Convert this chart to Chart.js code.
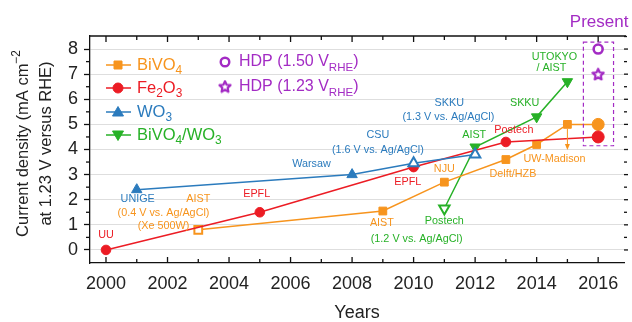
<!DOCTYPE html>
<html>
<head>
<meta charset="utf-8">
<script src="https://cdn.jsdelivr.net/npm/chart.js@4.4.1/dist/chart.umd.min.js"></script>
<style>
html,body{margin:0;padding:0;background:#fff;}
#wrap{width:632px;height:322px;}
</style>
</head>
<body>
<div id="wrap"><canvas id="c" width="632" height="322"></canvas></div>
<script>
// ---------- data ----------
const bivo4Years   = [2003, 2009, 2011, 2013, 2014, 2015, 2016];
const bivo4Values  = [0.8, 1.55, 2.7, 3.6, 4.2, 5.0, 5.0];
const fe2o3Years   = [2000, 2005, 2010, 2013, 2016];
const fe2o3Values  = [0.0, 1.5, 3.3, 4.3, 4.5];
const wo3Years     = [2001, 2008, 2010, 2012];
const wo3Values    = [2.4, 3.0, 3.45, 3.8];
const bwYears      = [2011, 2012, 2014, 2015];
const bwValues     = [1.65, 4.1, 5.3, 6.7];
const hdp150Years  = [2016];
const hdp150Values = [8.0];
const hdp123Years  = [2016];
const hdp123Values = [7.0];
const xTickLabels  = ['2000','2002','2004','2006','2008','2010','2012','2014','2016'];
const yTickLabels  = ['0','1','2','3','4','5','6','7','8'];

// ---------- styles ----------
const ORANGE = '#f7941d', RED = '#ec1c24', BLUE = '#2b7bbd', GREEN = '#27b127', PURPLE = '#a32bc4';
const FONT = '"Liberation Sans", Arial, Helvetica, sans-serif';

function pts(xs, ys){ return xs.map((x,i)=>({x:x, y:ys[i]})); }

function makeStar(color){
  const cv = document.createElement('canvas');
  cv.width = 14; cv.height = 14;
  const g = cv.getContext('2d');
  g.beginPath();
  for(let i=0;i<10;i++){
    const r = i%2===0 ? 5.8 : 2.8;
    const a = -Math.PI/2 + i*Math.PI/5;
    const px = 7 + r*Math.cos(a), py = 7.5 + r*Math.sin(a);
    if(i===0) g.moveTo(px,py); else g.lineTo(px,py);
  }
  g.closePath();
  g.fillStyle = '#fff'; g.fill();
  g.lineWidth = 2.2; g.strokeStyle = color; g.lineJoin='round'; g.stroke();
  return cv;
}
const starImg = makeStar(PURPLE);

// annotation labels (positions in data coordinates)
const labels = [
  ['UU', RED, 2000, 0.6],
  ['UNIGE', BLUE, 2001.03, 2.03],
  ['(0.4 V vs. Ag/AgCl)', ORANGE, 2001.87, 1.47],
  ['(Xe 500W)', ORANGE, 2001.87, 0.96],
  ['AIST', ORANGE, 2003.0, 2.03],
  ['EPFL', RED, 2004.9, 2.23],
  ['Warsaw', BLUE, 2006.68, 3.43],
  ['CSU', BLUE, 2008.84, 4.58],
  ['(1.6 V vs. Ag/AgCl)', BLUE, 2008.84, 3.98],
  ['SKKU', BLUE, 2011.16, 5.86],
  ['(1.3 V vs. Ag/AgCl)', BLUE, 2011.13, 5.30],
  ['EPFL', RED, 2009.81, 2.71],
  ['NJU', ORANGE, 2011.0, 3.23],
  ['AIST', GREEN, 2011.97, 4.58],
  ['Postech', RED, 2013.26, 4.78],
  ['Postech', GREEN, 2011.0, 1.16],
  ['AIST', ORANGE, 2008.97, 1.08],
  ['(1.2 V vs. Ag/AgCl)', GREEN, 2010.1, 0.44],
  ['Delft/HZB', ORANGE, 2013.23, 3.03],
  ['UW-Madison', ORANGE, 2014.58, 3.63],
  ['SKKU', GREEN, 2013.61, 5.86],
  ['UTOKYO', GREEN, 2014.58, 7.69],
  ['/ AIST', GREEN, 2014.48, 7.25]
];

function drawMarker(ctx, type, x, y, color, hollow){
  ctx.save();
  ctx.fillStyle = hollow ? '#fff' : color;
  ctx.strokeStyle = color;
  ctx.lineWidth = hollow ? 2 : 1;
  ctx.beginPath();
  if(type==='rect'){ ctx.rect(x-4, y-4, 8, 8); }
  else if(type==='circle'){ ctx.arc(x, y, 5, 0, Math.PI*2); }
  else if(type==='tri'){ ctx.moveTo(x, y-5.5); ctx.lineTo(x+5.5, y+4); ctx.lineTo(x-5.5, y+4); ctx.closePath(); }
  else if(type==='itri'){ ctx.moveTo(x, y+5.5); ctx.lineTo(x+5.5, y-4); ctx.lineTo(x-5.5, y-4); ctx.closePath(); }
  ctx.fill(); ctx.stroke();
  ctx.restore();
}

// text with subscripts: parts = [[text, 'n'|'sub'|'sup'], ...]
function richText(ctx, parts, x, y, size, color){
  let cx = x;
  ctx.fillStyle = color;
  ctx.textBaseline = 'middle';
  ctx.textAlign = 'left';
  for(const [t, k] of parts){
    if(k==='n'){ ctx.font = size+'px '+FONT; ctx.fillText(t, cx, y); }
    else if(k==='sub'){ ctx.font = (size*0.72)+'px '+FONT; ctx.fillText(t, cx, y+size*0.35); }
    else { ctx.font = (size*0.72)+'px '+FONT; ctx.fillText(t, cx, y-size*0.4); }
    cx += ctx.measureText(t).width;
  }
  return cx - x;
}
function richWidth(ctx, parts, size){
  let w = 0;
  for(const [t,k] of parts){
    ctx.font = (k==='n'? size : size*0.72)+'px '+FONT;
    w += ctx.measureText(t).width;
  }
  return w;
}

const decor = {
  id: 'decor',
  beforeDatasetsDraw(chart){
    const {ctx, chartArea:a, scales:{x, y}} = chart;
    ctx.save();
    ctx.strokeStyle = '#111';
    ctx.lineWidth = 1.3;
    ctx.beginPath(); ctx.moveTo(a.left, a.top); ctx.lineTo(a.right+2, a.top); ctx.stroke();
    for(let yr=2000; yr<=2016; yr++){
      const px = x.getPixelForValue(yr);
      const len = yr%2===0 ? 6 : 4;
      ctx.beginPath();
      ctx.moveTo(px, a.bottom); ctx.lineTo(px, a.bottom-len);
      ctx.moveTo(px, a.top); ctx.lineTo(px, a.top+len);
      ctx.stroke();
    }
    for(let v=-0.5; v<=8.5; v+=0.5){
      const py = y.getPixelForValue(v);
      if(v>=0 && v<=8 && Math.abs(v%1)>0.1){
        ctx.beginPath(); ctx.moveTo(a.left, py); ctx.lineTo(a.left-4, py); ctx.stroke();
      }
      if(v>=0 && v<=8.5){
        ctx.beginPath(); ctx.moveTo(a.right, py); ctx.lineTo(a.right+(Math.abs(v%1)<0.1?4:3), py); ctx.stroke();
      }
    }
    ctx.restore();
  },
  afterDatasetsDraw(chart){
    const {ctx, chartArea:a, scales:{x, y}} = chart;
    ctx.save();
    ctx.strokeStyle = PURPLE; ctx.lineWidth = 1.2; ctx.setLineDash([4,3]);
    const bx0 = x.getPixelForValue(2015.52), bx1 = x.getPixelForValue(2016.5);
    const by0 = y.getPixelForValue(8.28), by1 = y.getPixelForValue(4.15);
    ctx.strokeRect(bx0, by0, bx1-bx0, by1-by0);
    ctx.setLineDash([]);
    const ax = x.getPixelForValue(2015), ay0 = y.getPixelForValue(4.82), ay1 = y.getPixelForValue(3.98);
    ctx.strokeStyle = ORANGE; ctx.fillStyle = ORANGE; ctx.lineWidth = 1;
    ctx.beginPath(); ctx.moveTo(ax, ay0); ctx.lineTo(ax, ay1-3); ctx.stroke();
    ctx.beginPath(); ctx.moveTo(ax, ay1); ctx.lineTo(ax-2.5, ay1-6); ctx.lineTo(ax+2.5, ay1-6); ctx.closePath(); ctx.fill();
    ctx.font = '10.8px '+FONT; ctx.textAlign = 'center'; ctx.textBaseline = 'middle';
    for(const [t, c, lx, ly] of labels){
      ctx.fillStyle = c;
      ctx.fillText(t, x.getPixelForValue(lx), y.getPixelForValue(ly));
    }
    ctx.font = '17px '+FONT; ctx.fillStyle = PURPLE;
    ctx.fillText('Present', x.getPixelForValue(2016.03), a.top - 14);
    const legend = [
      ['rect', ORANGE, [['BiVO','n'],['4','sub']]],
      ['circle', RED, [['Fe','n'],['2','sub'],['O','n'],['3','sub']]],
      ['tri', BLUE, [['WO','n'],['3','sub']]],
      ['itri', GREEN, [['BiVO','n'],['4','sub'],['/WO','n'],['3','sub']]]
    ];
    const rowsY = [65, 88, 112, 135];
    legend.forEach((it, i)=>{
      const ly = rowsY[i];
      ctx.strokeStyle = it[1]; ctx.lineWidth = 1.5;
      ctx.beginPath(); ctx.moveTo(106, ly); ctx.lineTo(131, ly); ctx.stroke();
      drawMarker(ctx, it[0], 118, ly, it[1], false);
      richText(ctx, it[2], 137, ly, 16.5, it[1]);
    });
    ctx.strokeStyle = PURPLE; ctx.lineWidth = 2.4; ctx.fillStyle = '#fff';
    ctx.beginPath(); ctx.arc(225, 62, 4.3, 0, Math.PI*2); ctx.fill(); ctx.stroke();
    ctx.drawImage(starImg, 225-7, 87-7.5);
    richText(ctx, [['HDP (1.50 V','n'],['RHE','sub'],[')','n']], 239, 62, 16, PURPLE);
    richText(ctx, [['HDP (1.23 V','n'],['RHE','sub'],[')','n']], 239, 87, 16, PURPLE);
    ctx.restore();
  },
  afterDraw(chart){
    const {ctx, chartArea:a} = chart;
    ctx.save();
    ctx.font = '18px '+FONT; ctx.fillStyle = '#222'; ctx.textAlign='center'; ctx.textBaseline='middle';
    ctx.fillText('Years', (a.left+a.right)/2, 313);
    const cy = (a.top+a.bottom)/2 - 6;
    const l1 = [['Current density (mA cm','n'],['\u22122','sup']];
    const l2 = [['at 1.23 V versus RHE)','n']];
    ctx.save();
    ctx.translate(23, cy); ctx.rotate(-Math.PI/2);
    const w1 = richWidth(ctx, l1, 16.5);
    richText(ctx, l1, -w1/2, 0, 16.5, '#222');
    ctx.restore();
    ctx.save();
    ctx.translate(46, cy); ctx.rotate(-Math.PI/2);
    const w2 = richWidth(ctx, l2, 16.5);
    richText(ctx, l2, -w2/2, 0, 16.5, '#222');
    ctx.restore();
    ctx.restore();
  }
};

function ds(label, xs, ys, color, style, hollowIdx, radius){
  return {
    label: label,
    data: pts(xs, ys),
    borderColor: color,
    backgroundColor: color,
    borderWidth: 1.5,
    showLine: true,
    tension: 0,
    pointStyle: style,
    pointRadius: radius,
    pointBackgroundColor: xs.map((_,i)=> hollowIdx.includes(i) ? '#fff' : color),
    pointBorderColor: color,
    pointBorderWidth: xs.map((_,i)=> hollowIdx.includes(i) ? 2 : 1),
    pointRotation: 0
  };
}

const dsBivo = ds('BiVO4', bivo4Years, bivo4Values, ORANGE, bivo4Years.map((y,i)=> i===bivo4Years.length-1 ? 'circle' : 'rect'), [0], bivo4Years.map((y,i)=> i===bivo4Years.length-1 ? 6 : 5.5));
const dsFe = ds('Fe2O3', fe2o3Years, fe2o3Values, RED, 'circle', [], fe2o3Years.map((y,i)=> i===fe2o3Years.length-1 ? 6 : 4.8));
const dsWo = ds('WO3', wo3Years, wo3Values, BLUE, 'triangle', [2,3], 6);
const dsBw = ds('BiVO4/WO3', bwYears, bwValues, GREEN, 'triangle', [0], 6);
dsBw.pointRotation = 180;
const dsH150 = {
  label: 'HDP 1.50', data: pts(hdp150Years, hdp150Values), showLine:false,
  pointStyle:'circle', pointRadius:4.5, pointBackgroundColor:'#fff', pointBorderColor:PURPLE, pointBorderWidth:2.6
};
const dsH123 = {
  label: 'HDP 1.23', data: pts(hdp123Years, hdp123Values), showLine:false,
  pointStyle: starImg, pointRadius:7
};

new Chart(document.getElementById('c'), {
  type: 'scatter',
  data: { datasets: [dsWo, dsFe, dsBivo, dsBw, dsH150, dsH123] },
  plugins: [decor],
  options: {
    responsive: false,
    animation: false,
    devicePixelRatio: 1,
    layout: { padding: { top: 36, right: 4, left: 0, bottom: 0 } },
    plugins: { legend: { display: false }, tooltip: { enabled: false } },
    scales: {
      x: {
        type: 'linear', min: 1999.48, max: 2016.84,
        afterFit(s){ s.height = 59; },
        ticks: {
          stepSize: 2, includeBounds: false, padding: 10,
          color: '#222', font: { size: 18, family: FONT },
          maxRotation: 0, autoSkip: false,
          callback(v){ const s = String(Math.round(v)); return xTickLabels.includes(s) ? s : ''; }
        },
        grid: { drawOnChartArea: false, drawTicks: false },
        border: { display: true, color: '#111', width: 1.3 }
      },
      y: {
        type: 'linear', min: -0.52, max: 8.52,
        afterFit(s){ s.width = 90; },
        ticks: {
          stepSize: 1, includeBounds: false, padding: 6,
          color: '#222', font: { size: 18, family: FONT },
          callback(v){ const s = String(Math.round(v)); return (Math.abs(v-Math.round(v))<1e-6 && yTickLabels.includes(s)) ? s : ''; }
        },
        grid: { color: '#dedede', lineWidth: 1, drawTicks: true, tickLength: 6, tickColor: '#111', tickWidth: 1.3 },
        border: { display: true, color: '#111', width: 1.3 }
      }
    }
  }
});
</script>
</body>
</html>
